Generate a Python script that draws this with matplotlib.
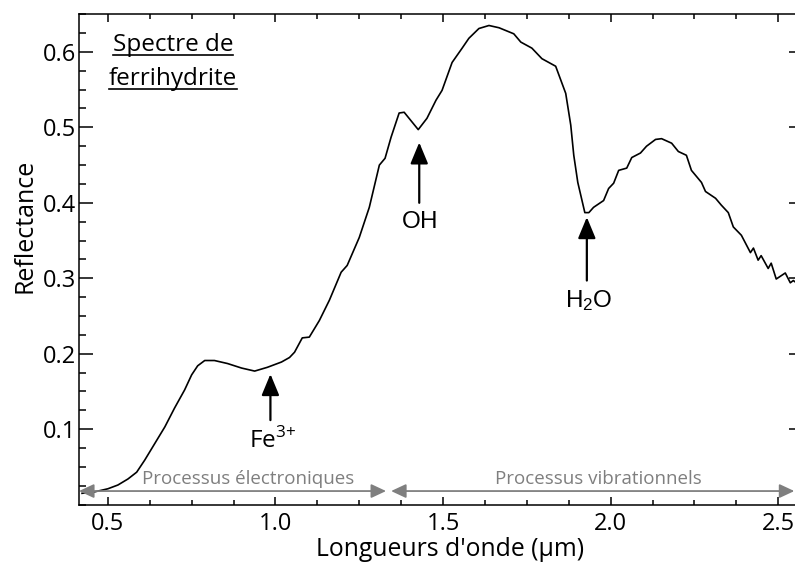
import numpy as np
import matplotlib as mpl
mpl.use('Agg')
import matplotlib.pyplot as plt
from matplotlib.ticker import MultipleLocator, FormatStrFormatter
from matplotlib.lines import Line2D

plt.rcParams['font.family'] = ['Open Sans', 'DejaVu Sans']
plt.rcParams['mathtext.fontset'] = 'custom'
plt.rcParams['mathtext.rm'] = 'Open Sans'
plt.rcParams['mathtext.sf'] = 'Liberation Sans'

# ferrihydrite reflectance spectrum
wavelength = [0.423, 0.461, 0.500, 0.530, 0.560, 0.586, 0.610, 0.640, 0.670, 0.699,
              0.729, 0.750, 0.768, 0.789, 0.818, 0.857, 0.899, 0.938, 0.976, 1.018,
              1.042, 1.057, 1.080, 1.101, 1.131, 1.161, 1.196, 1.214, 1.250, 1.280,
              1.310, 1.327, 1.345, 1.369, 1.384, 1.426, 1.452, 1.479, 1.497, 1.527,
              1.557, 1.577, 1.607, 1.637, 1.667, 1.711, 1.732, 1.765, 1.795, 1.836,
              1.866, 1.881, 1.890, 1.902, 1.923, 1.935, 1.949, 1.979, 1.994, 2.009,
              2.024, 2.048, 2.063, 2.089, 2.107, 2.134, 2.152, 2.182, 2.202, 2.226,
              2.241, 2.271, 2.283, 2.313, 2.330, 2.351, 2.366, 2.390, 2.417, 2.426,
              2.440, 2.449, 2.470, 2.479, 2.494, 2.521, 2.536, 2.545, 2.560]
reflectance = [0.015, 0.017, 0.021, 0.026, 0.034, 0.043, 0.059, 0.081, 0.103, 0.128,
               0.152, 0.172, 0.184, 0.191, 0.191, 0.187, 0.181, 0.177, 0.182, 0.189,
               0.195, 0.202, 0.221, 0.222, 0.244, 0.271, 0.308, 0.317, 0.354, 0.394,
               0.450, 0.459, 0.487, 0.519, 0.520, 0.497, 0.512, 0.536, 0.549, 0.586,
               0.605, 0.618, 0.631, 0.635, 0.632, 0.624, 0.613, 0.605, 0.591, 0.581,
               0.545, 0.503, 0.463, 0.427, 0.387, 0.387, 0.394, 0.403, 0.419, 0.426,
               0.443, 0.446, 0.460, 0.466, 0.475, 0.484, 0.485, 0.479, 0.468, 0.463,
               0.443, 0.427, 0.415, 0.406, 0.397, 0.387, 0.368, 0.357, 0.334, 0.340,
               0.324, 0.330, 0.313, 0.320, 0.299, 0.307, 0.294, 0.297, 0.292]

# absorption features: label, wavelength, arrow tail, arrow tip, label position
features = ['Fe$^{3{+}}$', r'$\mathsf{OH}$', r'$\mathsf{H_2O}$']
feat_x = [0.985, 1.429, 1.929]
feat_tail = [0.112, 0.400, 0.297]
feat_tip = [0.173, 0.480, 0.381]
feat_label_x = [0.991, 1.429, 1.936]
feat_label_y = [0.084, 0.375, 0.270]

# process ranges
process_names = ['Processus électroniques', 'Processus vibrationnels']
process_start = [0.414, 1.345]
process_end = [1.330, 2.548]
process_text_x = [0.917, 1.964]

fig = plt.figure(figsize=(7.95, 5.67), dpi=100)
ax = fig.add_axes([0.0994, 0.110, 0.9006, 0.865])

ax.plot(wavelength, reflectance, color='black', lw=1.2, zorder=3)

ax.set_xlim(0.414, 2.55)
ax.set_ylim(0.0, 0.65)

ax.xaxis.set_major_locator(MultipleLocator(0.5))
ax.xaxis.set_minor_locator(MultipleLocator(0.125))
ax.xaxis.set_major_formatter(FormatStrFormatter('%.1f'))
ax.set_yticks([0.1, 0.2, 0.3, 0.4, 0.5, 0.6])
ax.yaxis.set_minor_locator(MultipleLocator(0.025))
ax.yaxis.set_major_formatter(FormatStrFormatter('%.1f'))

ax.tick_params(axis='x', which='major', direction='in', length=6, width=1.1,
               top=True, bottom=True, labelsize=17, pad=5)
ax.tick_params(axis='x', which='minor', direction='in', length=3.5, width=1.1,
               top=True, bottom=True)
ax.tick_params(axis='y', which='major', direction='in', length=10, width=1.1,
               right=False, labelsize=17, pad=2)
ax.tick_params(axis='y', which='minor', direction='in', length=5, width=1.1,
               right=False)
for side in ['left', 'bottom', 'top']:
    ax.spines[side].set_linewidth(1.1)
ax.spines['right'].set_visible(False)

# short major ticks on the right edge
sec = ax.secondary_yaxis('right')
sec.set_yticks([0.1, 0.2, 0.3, 0.4, 0.5, 0.6])
sec.tick_params(direction='in', length=4, width=1.1, labelright=False)
sec.spines['right'].set_visible(False)

ax.set_xlabel("Longueurs d'onde (µm)", fontsize=17.8)
ax.set_ylabel('Reflectance', fontsize=18)
ax.xaxis.set_label_coords(0.518, -0.066)
ax.yaxis.set_label_coords(-0.058, 0.568)

# feature arrows
for lab, x, y0, y1, lx, ly in zip(features, feat_x, feat_tail, feat_tip,
                                   feat_label_x, feat_label_y):
    ax.annotate('', xy=(x, y1), xytext=(x, y0),
                arrowprops=dict(arrowstyle='-|>,head_length=0.65,head_width=0.27',
                                mutation_scale=20, color='black', lw=1.6,
                                shrinkA=0, shrinkB=0))
    ax.text(lx, ly, lab, fontsize=17.5, ha='center', va='center')

# process ranges along the bottom
for name, x0, x1, tx in zip(process_names, process_start, process_end, process_text_x):
    ax.annotate('', xy=(x1, 0.018), xytext=(x0, 0.018),
                arrowprops=dict(arrowstyle='<|-|>,head_length=0.6,head_width=0.28',
                                mutation_scale=15, color='#7f7f7f', lw=1.3,
                                shrinkA=0, shrinkB=0), annotation_clip=False)
    ax.text(tx, 0.034, name, fontsize=13.5, color='#7f7f7f', ha='center', va='center')

# underlined title
titles = []
for txt, yb in [('Spectre de', 0.925), ('ferrihydrite', 0.856)]:
    titles.append(ax.text(0.131, yb, txt, transform=ax.transAxes, fontsize=17.5,
                          ha='center', va='baseline'))
fig.canvas.draw()
inv = ax.transAxes.inverted()
for t, yu in zip(titles, [0.916, 0.847]):
    bb = t.get_window_extent()
    (x0, _), (x1, _) = inv.transform([(bb.x0, bb.y0), (bb.x1, bb.y1)])
    ax.add_line(Line2D([x0, x1], [yu, yu], transform=ax.transAxes,
                       color='black', lw=1.2))

fig.savefig('out.png', dpi=100)
